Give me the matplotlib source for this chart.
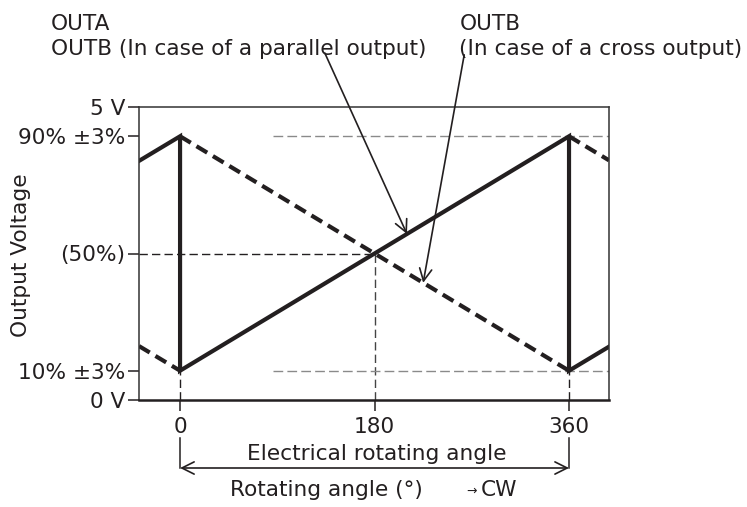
import numpy as np
import matplotlib
matplotlib.use('Agg')
import matplotlib.pyplot as plt

plt.rcParams['font.family'] = ['DejaVu Sans']

W, H = 747, 507
INK = '#231f20'
FS = 15.6

# angle axis (deg) and output voltage (V)
x_min, x_max = -38, 397
y_ticks = [0, 0.5, 2.5, 4.5, 5]
y_labels = ['0 V', '10% ±3%', '(50%)', '90% ±3%', '5 V']
x_ticks = [0, 180, 360]
x_labels = ['0', '180', '360']

# OUTA (solid): rises 10% -> 90% over one electrical turn, then snaps back
outa_x = [-38, 0, 0, 360, 360, 397]
outa_y = [4.08, 4.5, 0.5, 4.5, 0.5, 0.91]

# OUTB cross output (dashed): falls 90% -> 10%
outb_x = [[-38, 0], [0, 360], [360, 397]]
outb_y = [[0.92, 0.5], [4.5, 0.5], [4.5, 4.09]]

v_low, v_mid, v_high = 0.5, 2.5, 4.5
mid_angle = 180

fig = plt.figure(figsize=(W / 100, H / 100), dpi=100)
ax = fig.add_axes([139 / W, 1 - 400 / H, (609 - 139) / W, (400 - 107) / H])
ax.set_xlim(x_min, x_max)
ax.set_ylim(0, 5)

# helper lines
ax.plot([x_min, mid_angle], [v_mid, v_mid], color=INK, lw=1.0, ls=(0, (6, 3)))
ax.plot([mid_angle, mid_angle], [0, v_mid], color='#444444', lw=1.0,
        ls=(0, (6, 3)))
for a in [0, 360]:
    ax.plot([a, a], [0, v_low], color=INK, lw=1.0, ls=(0, (6, 3)))
for v in [v_low, v_high]:
    ax.plot([86, x_max], [v, v], color='#8a8a8a', lw=1.0, ls=(0, (7, 3)))

# signals
for xs, ys in zip(outb_x, outb_y):
    ax.plot(xs, ys, color=INK, lw=3.0, ls=(0, (3, 1.6)))
ax.plot(outa_x, outa_y, color=INK, lw=3.0, solid_joinstyle='miter')

# spines / ticks
for s in ['left', 'right', 'top']:
    ax.spines[s].set_linewidth(1.1)
    ax.spines[s].set_color('#333333')
ax.spines['bottom'].set_linewidth(1.8)
ax.spines['bottom'].set_color(INK)
ax.set_yticks(y_ticks)
ax.set_yticklabels(y_labels)
ax.set_xticks(x_ticks)
ax.set_xticklabels(x_labels)
ax.tick_params(axis='y', direction='out', length=8, width=1.1, pad=2,
               labelsize=FS, colors=INK)
ax.tick_params(axis='x', direction='out', length=8, width=1.1, pad=4,
               labelsize=FS, colors=INK)

# pointer arrows
ax.annotate('', xy=(210, 0.5 + 210 * 4 / 360), xytext=(134, 5.92),
            arrowprops=dict(arrowstyle='->', color=INK, lw=1.2,
                            mutation_scale=22, shrinkA=0, shrinkB=0),
            annotation_clip=False)
ax.annotate('', xy=(225, 4.5 - 225 * 4 / 360), xytext=(263, 5.89),
            arrowprops=dict(arrowstyle='->', color=INK, lw=1.2,
                            mutation_scale=22, shrinkA=0, shrinkB=0),
            annotation_clip=False)

# bracket under the axis: electrical rotating angle
trans = ax.get_xaxis_transform()
y_arrow = (400 - 468) / (400 - 107)
y_top = (400 - 438) / (400 - 107)
for a in [0, 360]:
    ax.plot([a, a], [y_top, y_arrow], color=INK, lw=1.1, transform=trans,
            clip_on=False)
ax.annotate('', xy=(0, y_arrow), xytext=(360, y_arrow), xycoords=trans,
            textcoords=trans,
            arrowprops=dict(arrowstyle='<->', color=INK, lw=1.2,
                            mutation_scale=22, shrinkA=0, shrinkB=0),
            annotation_clip=False)


def fx(px):
    return px / W


def fy(py):
    return 1 - py / H


fig.text(fx(377), fy(460.5), 'Electrical rotating angle', ha='center',
         va='baseline', fontsize=FS, color=INK)
fig.text(fx(230), fy(496.5), 'Rotating angle (°)', ha='left', va='baseline',
         fontsize=FS, color=INK)
fig.text(fx(466), fy(490), '→', ha='left', va='center_baseline',
         fontsize=9, color=INK)
fig.text(fx(481), fy(496.5), 'CW', ha='left', va='baseline',
         fontsize=FS, color=INK)

fig.text(fx(21), fy(255), 'Output Voltage', rotation=90, ha='center',
         va='center', fontsize=FS, color=INK)

fig.text(fx(51), fy(30), 'OUTA', ha='left', va='baseline', fontsize=FS,
         color=INK)
fig.text(fx(51), fy(55), 'OUTB (In case of a parallel output)', ha='left',
         va='baseline', fontsize=FS, color=INK)
fig.text(fx(460), fy(30), 'OUTB', ha='left', va='baseline', fontsize=FS,
         color=INK)
fig.text(fx(459), fy(55), '(In case of a cross output)', ha='left',
         va='baseline', fontsize=FS, color=INK)

fig.savefig('out.png', dpi=100)
